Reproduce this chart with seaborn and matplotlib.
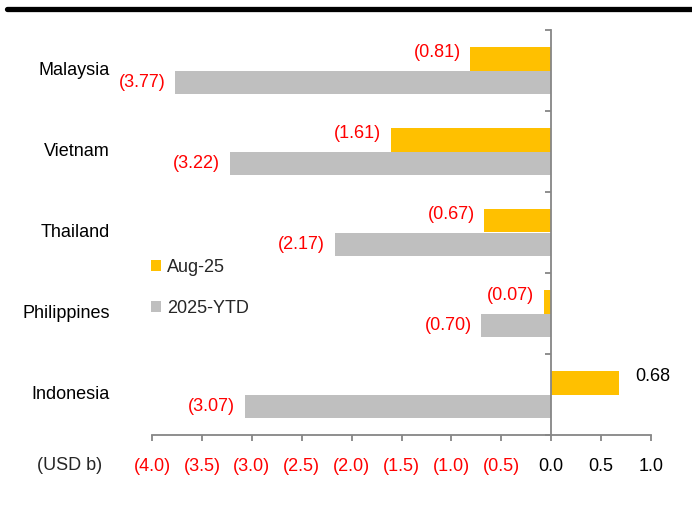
import seaborn as sns
import pandas as pd
import matplotlib.pyplot as plt
from matplotlib.lines import Line2D
from matplotlib.patches import Patch

countries = ['Malaysia', 'Vietnam', 'Thailand', 'Philippines', 'Indonesia']
series = ['Aug-25', '2025-YTD']
aug25 = [-0.81, -1.61, -0.67, -0.07, 0.68]
ytd = [-3.77, -3.22, -2.17, -0.70, -3.07]
xticks = [-4.0, -3.5, -3.0, -2.5, -2.0, -1.5, -1.0, -0.5, 0.0, 0.5, 1.0]

colors = {'Aug-25': '#FFC000', '2025-YTD': '#BFBFBF'}
RED = '#FF0000'
AXIS = '#868686'


def fmt(v, digits=2):
    s = f'{abs(v):.{digits}f}'
    return f'({s})' if v < 0 else s


sns.set_style('white')
plt.rcParams['font.family'] = ['Liberation Sans', 'DejaVu Sans']
font_size = 13

df = pd.DataFrame({
    'Country': countries * 2,
    'Series': [series[0]] * len(countries) + [series[1]] * len(countries),
    'Value': aug25 + ytd,
})

fig = plt.figure(figsize=(6.92, 5.07), dpi=100)
ax = fig.add_axes([152 / 692, 1 - 435 / 507, 499 / 692, 405 / 507])

sns.barplot(data=df, x='Value', y='Country', hue='Series', order=countries, hue_order=series,
            palette=colors, orient='h', width=0.57, linewidth=0, saturation=1, ax=ax, legend=False)

ax.set_xlim(-4, 1)
ax.set_ylim(len(countries) - 0.5, -0.5)
ax.set_xlabel('')
ax.set_ylabel('')

# spines: y axis sits at zero, x axis at the bottom
for s in ['top', 'right']:
    ax.spines[s].set_visible(False)
ax.spines['left'].set_position(('data', 0))
for s in ['left', 'bottom']:
    ax.spines[s].set_color(AXIS)
    ax.spines[s].set_linewidth(1.3)

ax.set_yticks([i - 0.5 for i in range(len(countries) + 1)])
ax.set_yticklabels([])
ax.tick_params(axis='y', length=4.5, width=1.3, color=AXIS, direction='out', left=True)

ax.set_xticks(xticks)
ax.set_xticklabels([fmt(t, 1) for t in xticks])
ax.tick_params(axis='x', length=4.5, width=1.3, color=AXIS, direction='out', bottom=True,
               labelsize=font_size, pad=12)
for lab, t in zip(ax.get_xticklabels(), xticks):
    lab.set_color(RED if t < 0 else 'black')

# category names sit at the far left
for i, c in enumerate(countries):
    ax.text(-0.085, i, c, transform=ax.get_yaxis_transform(), ha='right', va='center',
            fontsize=font_size, color='black')

# data labels
for cont, vals, dy in zip(ax.containers, [aug25, ytd], [5, 0]):
    anns = ax.bar_label(cont, labels=[fmt(v) for v in vals], padding=7, fontsize=font_size)
    for a, v in zip(anns, vals):
        a.set_color(RED if v < 0 else 'black')
        a.xyann = (12 if v > 0 else -7, dy)

handles = [Patch(facecolor=colors[s], edgecolor='none') for s in series]
ax.legend(handles, series, loc='upper left', bbox_to_anchor=(-0.034, 0.475), frameon=False,
          fontsize=font_size, handlelength=0.55, handleheight=0.55, handletextpad=0.3,
          labelspacing=1.35)

fig.text(37 / 692, 1 - 465 / 507, '(USD b)', fontsize=font_size, ha='left', va='center')
fig.add_artist(Line2D([0.01, 1.0], [1 - 9 / 507, 1 - 9 / 507], color='black', linewidth=3.8,
                      transform=fig.transFigure))

plt.savefig('out.png', dpi=100)
plt.close()
